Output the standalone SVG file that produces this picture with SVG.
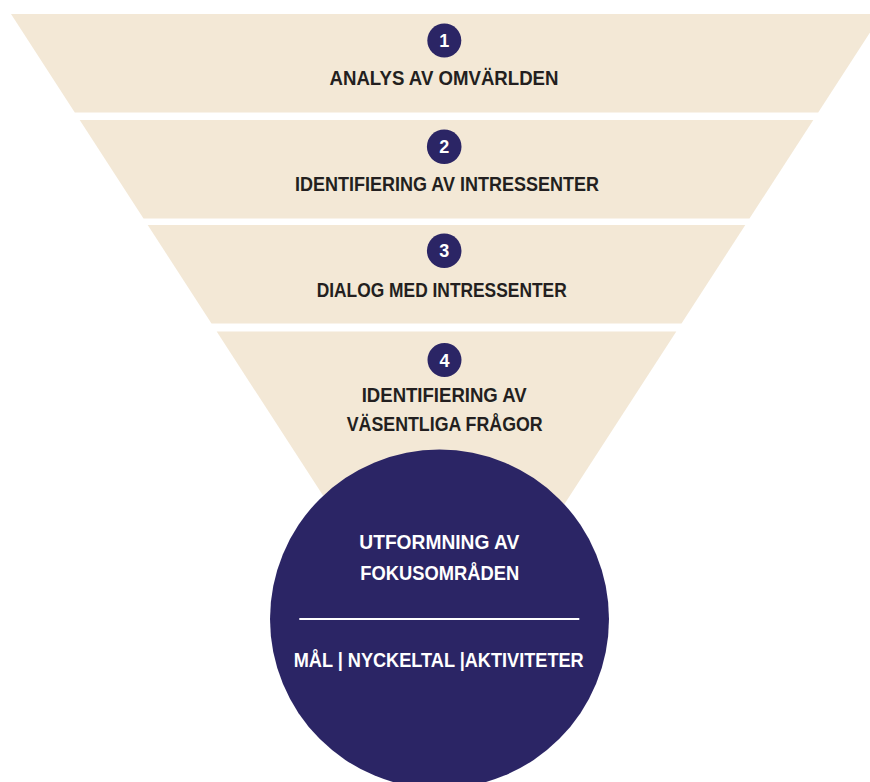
<svg xmlns="http://www.w3.org/2000/svg" width="870" height="782" viewBox="0 0 870 782">
<style>
.band{fill:#F3E8D6}
.num{fill:#2B2565}
.numt{fill:#fff;font-family:"Liberation Sans",Arial,sans-serif;font-weight:bold;font-size:18px;text-anchor:middle}
.lbl{fill:#231F20;font-family:"Liberation Sans",Arial,sans-serif;font-weight:bold;font-size:19.5px;text-anchor:middle}
.wl{fill:#fff;font-family:"Liberation Sans",Arial,sans-serif;font-weight:bold;font-size:19.5px;text-anchor:middle}
</style>
<rect width="870" height="782" fill="#fff"/>
<g id="step1">
<polygon class="band" points="11,14 882,14 818.2,112.5 74.8,112.5"/>
<circle class="num" cx="444.3" cy="40.5" r="17"/>
<text class="numt" x="444.3" y="47">1</text>
<text class="lbl" x="444" y="85" textLength="229" lengthAdjust="spacingAndGlyphs">ANALYS AV OMVÄRLDEN</text>
</g>
<g id="step2">
<polygon class="band" points="79.7,120 813.3,120 749.5,218.5 143.5,218.5"/>
<circle class="num" cx="444.2" cy="146.7" r="17.3"/>
<text class="numt" x="444.2" y="153.2">2</text>
<text class="lbl" x="447" y="191" textLength="304" lengthAdjust="spacingAndGlyphs">IDENTIFIERING AV INTRESSENTER</text>
</g>
<g id="step3">
<polygon class="band" points="147.7,225 745.3,225 681.5,323.5 211.5,323.5"/>
<circle class="num" cx="444.2" cy="250.8" r="17.3"/>
<text class="numt" x="444.2" y="257.3">3</text>
<text class="lbl" x="441.7" y="297" textLength="250" lengthAdjust="spacingAndGlyphs">DIALOG MED INTRESSENTER</text>
</g>
<g id="step4">
<polygon class="band" points="216.7,331.5 676.3,331.5 446.5,686"/>
<circle class="num" cx="444.5" cy="360" r="17"/>
<text class="numt" x="444.5" y="366.5">4</text>
<text class="lbl" x="444.2" y="401.7" textLength="165" lengthAdjust="spacingAndGlyphs">IDENTIFIERING AV</text>
<text class="lbl" x="444.7" y="430.7" textLength="196" lengthAdjust="spacingAndGlyphs">VÄSENTLIGA FRÅGOR</text>
</g>
<g id="result">
<circle cx="439.5" cy="619" r="169.5" fill="#2B2565"/>
<text class="wl" x="439.3" y="549.3" textLength="160" lengthAdjust="spacingAndGlyphs">UTFORMNING AV</text>
<text class="wl" x="439.7" y="580" textLength="159" lengthAdjust="spacingAndGlyphs">FOKUSOMRÅDEN</text>
<line x1="299.3" y1="619" x2="579.3" y2="619" stroke="#fff" stroke-width="2.2"/>
<text class="wl" x="438.7" y="666.7" textLength="290" lengthAdjust="spacingAndGlyphs">MÅL | NYCKELTAL |AKTIVITETER</text>
</g>
<g id="connectors"></g>
</svg>
